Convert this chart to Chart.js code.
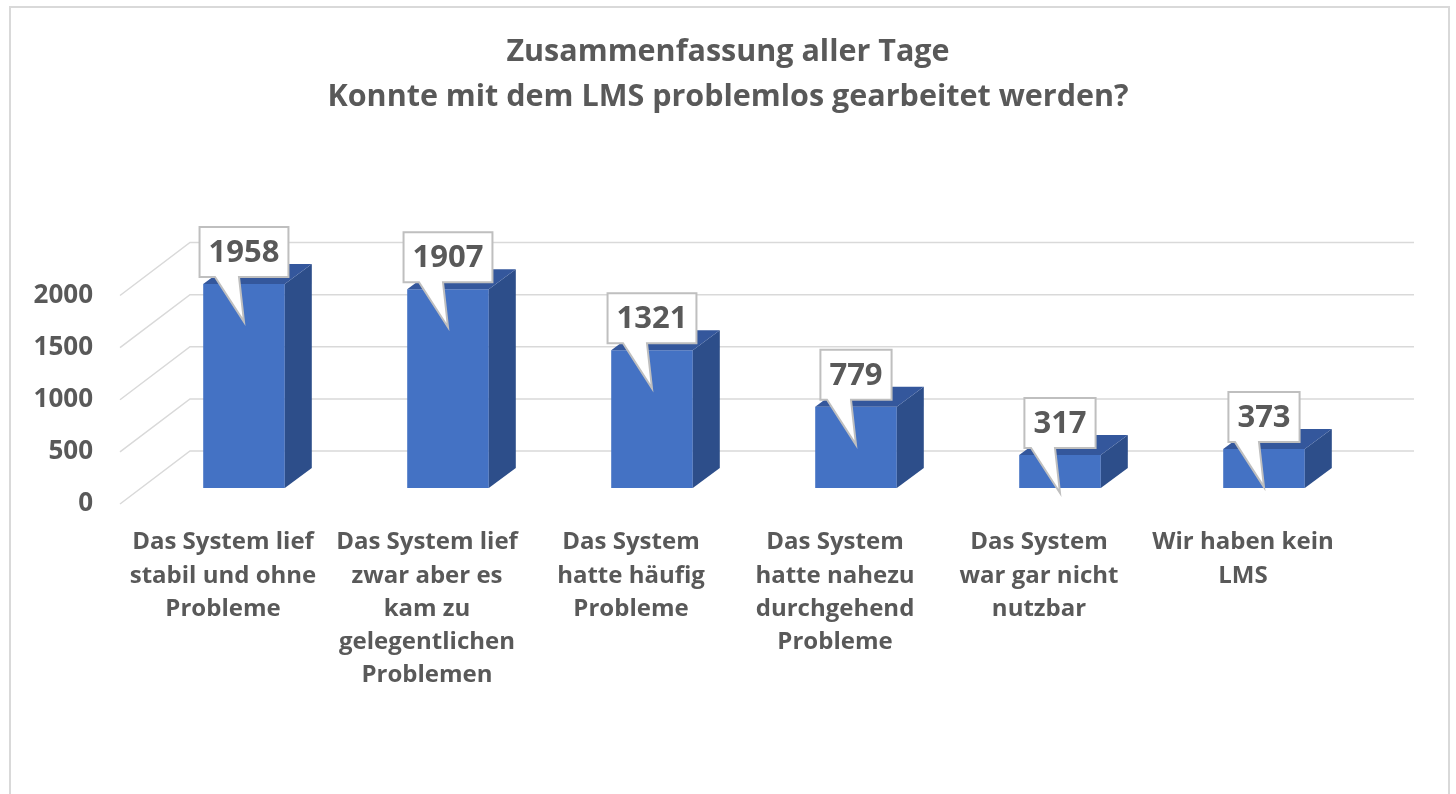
<!DOCTYPE html>
<html>
<head>
<meta charset="utf-8">
<script src="https://cdn.jsdelivr.net/npm/chart.js@4.4.1/dist/chart.umd.min.js"></script>
<style>
  html, body { margin: 0; padding: 0; background: #fff; overflow: hidden; }
  #frame { position: absolute; left: 9px; top: 6px; width: 1441px; height: 830px; border: 2px solid #d9d9d9; box-sizing: border-box; }
  #wrap { position: absolute; left: 0; top: 0; width: 1456px; height: 794px; }
</style>
</head>
<body>
<div id="frame"></div>
<div id="wrap"><canvas id="myChart"></canvas></div>
<script>
// data
const categories = [
  ['Das System lief', 'stabil und ohne', 'Probleme'],
  ['Das System lief', 'zwar aber es', 'kam zu', 'gelegentlichen', 'Problemen'],
  ['Das System', 'hatte häufig', 'Probleme'],
  ['Das System', 'hatte nahezu', 'durchgehend', 'Probleme'],
  ['Das System', 'war gar nicht', 'nutzbar'],
  ['Wir haben kein', 'LMS']
]
const values = [1958, 1907, 1321, 779, 317, 373]
const yTicks = [0, 500, 1000, 1500, 2000]
const titleLines = ['Zusammenfassung aller Tage', 'Konnte mit dem LMS problemlos gearbeitet werden?']

const textColor = '#595959'
const frontColor = '#4472C4'
const sideColor = '#2D4E8A'
const topColor = '#34579C'
const fontFamily = '"Open Sans", Lato, sans-serif'

// fake 3d: bar depth, back wall and front edge offsets (px)
const depthX = 27, depthY = -20
const wallX = 48, wallY = -37
const edgeX = -22, edgeY = 16

const threeD = {
  id: 'threeD',
  beforeDatasetsDraw (chart) {
    const ctx = chart.ctx
    const y = chart.scales.y
    const area = chart.chartArea
    ctx.save()
    ctx.strokeStyle = '#d9d9d9'
    ctx.lineWidth = 1.5
    yTicks.forEach(v => {
      const py = y.getPixelForValue(v)
      ctx.beginPath()
      ctx.moveTo(area.left + edgeX, py + edgeY)
      ctx.lineTo(area.left + wallX, py + wallY)
      ctx.lineTo(area.right + wallX, py + wallY)
      ctx.stroke()
    })
    ctx.restore()
  },
  afterDatasetsDraw (chart) {
    const ctx = chart.ctx
    const meta = chart.getDatasetMeta(0)
    ctx.save()
    // side + top faces
    meta.data.forEach(bar => {
      const p = bar.getProps(['x', 'y', 'base', 'width'], true)
      const l = p.x - p.width / 2, r = p.x + p.width / 2
      ctx.fillStyle = sideColor
      ctx.beginPath()
      ctx.moveTo(r, p.y)
      ctx.lineTo(r + depthX, p.y + depthY)
      ctx.lineTo(r + depthX, p.base + depthY)
      ctx.lineTo(r, p.base)
      ctx.closePath()
      ctx.fill()
      ctx.fillStyle = topColor
      ctx.beginPath()
      ctx.moveTo(l, p.y)
      ctx.lineTo(l + depthX, p.y + depthY)
      ctx.lineTo(r + depthX, p.y + depthY)
      ctx.lineTo(r, p.y)
      ctx.closePath()
      ctx.fill()
    })
    // callout labels
    ctx.font = 'bold 31px ' + fontFamily
    ctx.textAlign = 'center'
    ctx.textBaseline = 'middle'
    meta.data.forEach((bar, i) => {
      const p = bar.getProps(['x', 'y'], true)
      const txt = String(values[i])
      const w = ctx.measureText(txt).width + 18
      const h = 50
      const bx = p.x - w / 2
      const by = p.y - 7 - h
      ctx.beginPath()
      ctx.moveTo(bx, by)
      ctx.lineTo(bx + w, by)
      ctx.lineTo(bx + w, by + h)
      ctx.lineTo(p.x - 5, by + h)
      ctx.lineTo(p.x, p.y + 38)
      ctx.lineTo(p.x - 29, by + h)
      ctx.lineTo(bx, by + h)
      ctx.closePath()
      ctx.fillStyle = '#fff'
      ctx.fill()
      ctx.strokeStyle = '#bfbfbf'
      ctx.lineWidth = 2
      ctx.stroke()
      ctx.fillStyle = textColor
      ctx.fillText(txt, p.x, by + h / 2 + 1)
    })
    ctx.restore()
  }
}

new Chart(document.getElementById('myChart'), {
  type: 'bar',
  data: {
    labels: categories,
    datasets: [{
      data: values,
      backgroundColor: frontColor,
      barPercentage: 0.4,
      categoryPercentage: 1
    }]
  },
  options: {
    responsive: true,
    maintainAspectRatio: false,
    animation: false,
    layout: { padding: 0 },
    plugins: {
      legend: { display: false },
      tooltip: { enabled: false },
      title: {
        display: true,
        text: titleLines,
        color: textColor,
        font: { family: fontFamily, size: 30.5, weight: 'bold', lineHeight: 1.5 },
        padding: { top: 29, bottom: 159 }
      }
    },
    scales: {
      x: {
        grid: { display: false, drawTicks: false },
        border: { display: false },
        ticks: {
          color: textColor,
          font: { family: fontFamily, size: 24, weight: 'bold', lineHeight: 1.38 },
          padding: 38,
          labelOffset: -21,
          maxRotation: 0,
          autoSkip: false
        },
        afterFit: function (scale) { scale.height = 306 }
      },
      y: {
        min: 0,
        max: 2000,
        grid: { display: false, drawTicks: false },
        border: { display: false },
        ticks: {
          stepSize: 500,
          color: textColor,
          font: { family: fontFamily, size: 26, weight: 'bold' },
          padding: 49,
          labelOffset: 16,
          callback: v => String(v)
        },
        afterFit: function (scale) { scale.width = 142 }
      },
      // empty axis on the right, only keeps the plot away from the frame
      yRight: {
        position: 'right',
        grid: { display: false, drawTicks: false },
        border: { display: false },
        ticks: { display: false },
        afterFit: function (scale) { scale.width = 90 }
      }
    }
  },
  plugins: [threeD]
})
</script>
</body>
</html>
